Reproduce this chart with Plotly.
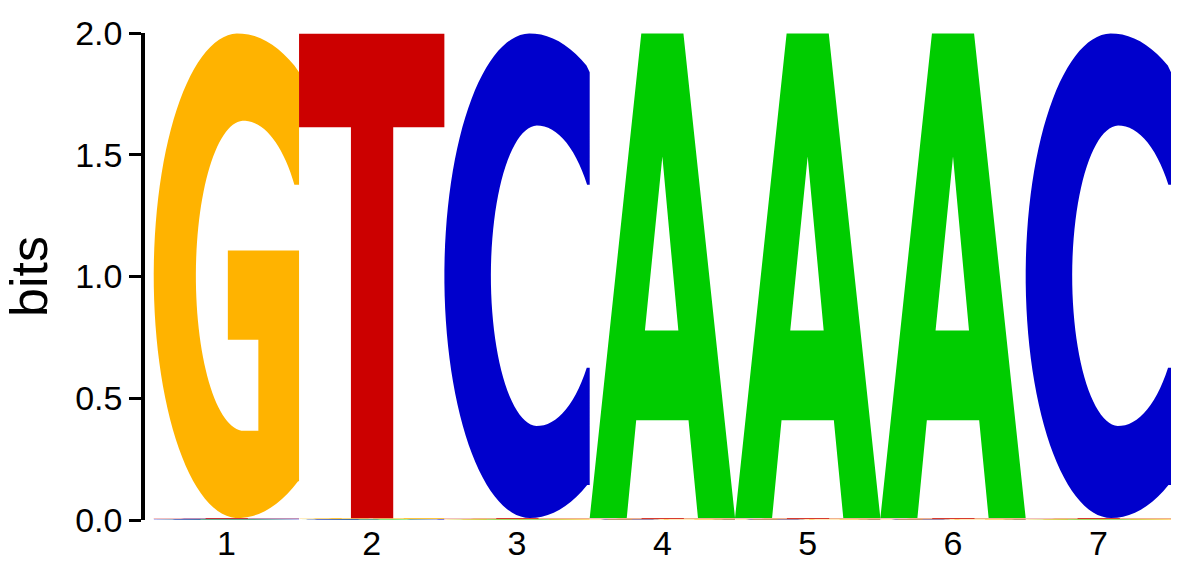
import math
import plotly.graph_objects as go

# sequence logo data: information content (bits) per letter at each position
positions = [1, 2, 3, 4, 5, 6, 7]
letters = ["A", "C", "G", "T"]
bits_A = [0.002, 0.002, 0.002, 1.990, 1.990, 1.990, 0.002]
bits_C = [0.003, 0.002, 1.990, 0.002, 0.002, 0.002, 1.990]
bits_G = [1.990, 0.003, 0.003, 0.003, 0.003, 0.003, 0.003]
bits_T = [0.003, 1.990, 0.003, 0.003, 0.003, 0.003, 0.003]
y_ticks = [0.0, 0.5, 1.0, 1.5, 2.0]

colors = {"A": "#00CC00", "C": "#0000CC", "G": "#FFB300", "T": "#CC0000"}
heights = {"A": bits_A, "C": bits_C, "G": bits_G, "T": bits_T}


def arc(cx, cy, rxl, rxr, ry, t0, t1, n=80):
    # elliptical arc with different horizontal radius on each side
    pts = []
    for i in range(n + 1):
        t = t0 + (t1 - t0) * i / n
        c, s = math.cos(t), math.sin(t)
        rx = rxr if c > 0 else rxl
        pts.append((min(cx + rx * c, 1.0), cy + ry * s))
    return pts


# glyph outlines in a unit box (x, y in 0..1)
def glyph_G():
    outer = arc(0.58, 0.5, 0.58, 0.78, 0.5, math.asin(0.84), 2 * math.pi - math.asin(0.848))
    pts = [(1.0, 0.92)] + outer + [(1.0, 0.076), (1.0, 0.552), (0.51, 0.552), (0.51, 0.368),
                                   (0.72, 0.368), (0.72, 0.18)]
    inner = arc(0.62, 0.5, 0.33, 0.43, 0.32, 1.5 * math.pi, math.asin(0.5875))
    pts += inner + [(1.0, 0.688)]
    return [pts]


def glyph_C():
    outer = arc(0.59, 0.5, 0.59, 0.78, 0.5, math.asin(0.84), 2 * math.pi - math.asin(0.864))
    pts = [(1.0, 0.92)] + outer + [(1.0, 0.068), (1.0, 0.31)]
    inner = arc(0.64, 0.5, 0.32, 0.43, 0.31, 2 * math.pi - math.asin(0.613), math.asin(0.606))
    pts += inner + [(1.0, 0.688)]
    return [pts]


def glyph_T():
    return [[(0, 1), (1, 1), (1, 0.807), (0.648, 0.807), (0.648, 0), (0.357, 0),
             (0.357, 0.807), (0, 0.807)]]


def glyph_A():
    outer = [(0, 0), (0.355, 1), (0.645, 1), (1, 0), (0.745, 0), (0.68, 0.202),
             (0.32, 0.202), (0.255, 0)]
    hole = [(0.38, 0.387), (0.61, 0.387), (0.5, 0.746)]
    return [outer, hole]


glyphs = {"A": glyph_A(), "C": glyph_C(), "G": glyph_G(), "T": glyph_T()}


def glyph_path(letter, x0, y0, h):
    parts = []
    for poly in glyphs[letter]:
        coords = ["%.5f,%.6f" % (x0 + u, y0 + v * h) for u, v in poly]
        parts.append("M" + " L".join(coords) + " Z")
    return " ".join(parts)


shapes = []
for i, pos in enumerate(positions):
    # smallest letters at the bottom, tallest on top
    stack = sorted(letters, key=lambda l: heights[l][i])
    base = 0.0
    for letter in stack:
        h = heights[letter][i]
        shapes.append(dict(type="path", xref="x", yref="y",
                           path=glyph_path(letter, pos - 0.5, base, h),
                           fillcolor=colors[letter], fillrule="evenodd",
                           line=dict(width=0), layer="above"))
        base += h

fig = go.Figure()
# invisible trace so the axes get drawn
fig.add_trace(go.Scatter(x=positions, y=[0] * len(positions), mode="markers",
                         marker=dict(opacity=0), hoverinfo="skip", showlegend=False))

font = "Liberation Sans, Arial, sans-serif"
fig.update_layout(
    width=1194, height=565,
    margin=dict(l=145, r=23, t=33, b=45),
    plot_bgcolor="white", paper_bgcolor="white",
    shapes=shapes,
    showlegend=False,
    font=dict(family=font, color="black"),
    xaxis=dict(range=[0.44, 7.5], tickvals=positions, ticktext=[str(p) for p in positions],
               showline=False, showgrid=False, zeroline=False, ticks="",
               tickfont=dict(size=34, family=font, color="black"),
               automargin=False),
    yaxis=dict(range=[0, 2], tickvals=y_ticks, ticktext=["%.1f" % v for v in y_ticks],
               showline=True, linecolor="black", linewidth=3.5,
               ticks="outside", ticklen=12, tickwidth=2.5, tickcolor="black",
               showgrid=False, zeroline=False,
               tickfont=dict(size=34, family=font, color="black"),
               title=dict(text="bits", font=dict(size=52, family=font, color="black"),
                          standoff=13),
               automargin=False),
)

# drop the default page margin so the figure sits at the window's corner
fig.write_html("out.html", config={"displayModeBar": False},
               post_script="document.body.style.margin='0px';"
                           "document.body.style.overflow='hidden';")
